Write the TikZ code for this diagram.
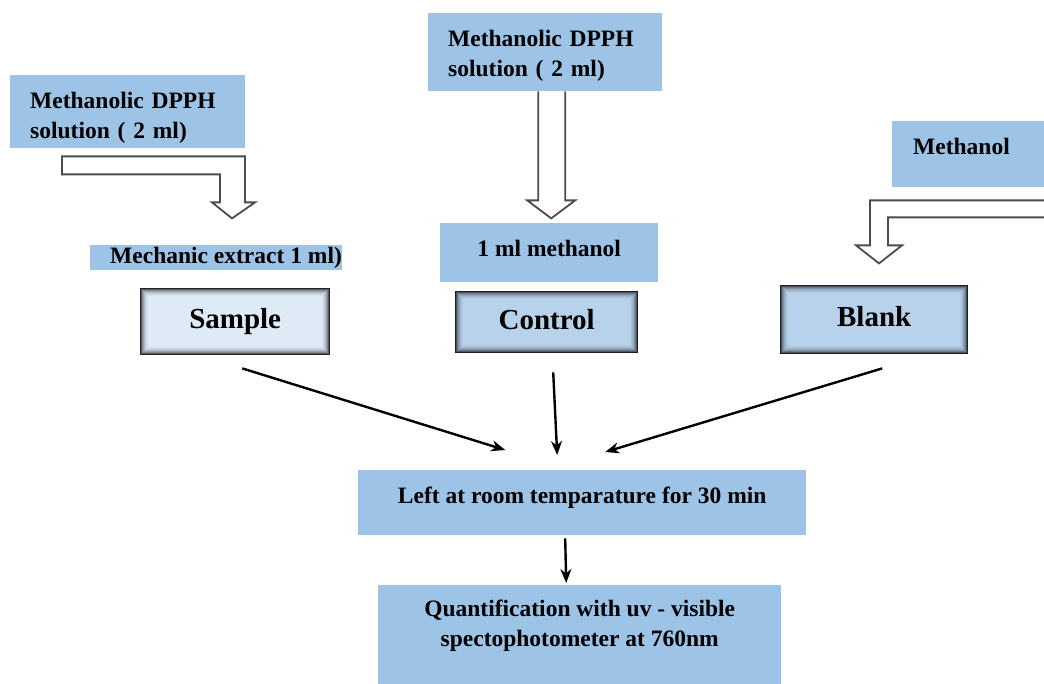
\documentclass[tikz,border=0pt]{standalone}
\usepackage{fontspec}
\setmainfont{Liberation Serif}
\usetikzlibrary{arrows.meta,calc}
\definecolor{paleblue}{RGB}{157,195,230}
\definecolor{sampleblue}{RGB}{222,234,246}
\definecolor{stepblue}{RGB}{184,210,235}

\begin{document}
\begin{tikzpicture}[
    x=1pt, y=-1pt,
    >={Stealth[length=14pt,width=11pt]},
    txt/.style={
        font=\bfseries\fontsize{23.5}{30}\selectfont
    },
    bluebox/.style={
        txt,
        fill=paleblue,
        inner sep=0pt,
        anchor=north west
    },
    tube/.style={
        fill=#1,
        inner sep=0pt,
        anchor=north west,
        text height=20pt,
        text depth=6pt,
        font=\bfseries\fontsize{29}{34}\selectfont
    },
    hollow/.style={
        draw=black!70,
        line width=1.8pt,
        fill=white,
        line join=miter
    },
    flow/.style={
        ->,
        line width=2.4pt
    }
    ]
    \useasboundingbox (0,0) rectangle (1044,684);
    \clip (0,0) rectangle (1044,684);

    % reagents
    \node[bluebox, minimum width=235pt, minimum height=73pt, align=left, text width=195pt] (dpphA) at (10,75) {\rule{0pt}{29pt}Methanolic DPPH\\solution ( 2 ml)};
    \node[bluebox, minimum width=234pt, minimum height=78pt, align=left, text width=194pt] (dpphB) at (428,13) {\rule{0pt}{24pt}Methanolic DPPH\\solution ( 2 ml)};
    \node[bluebox, minimum width=158pt, minimum height=66pt, text height=16pt, text depth=16pt] (meth) at (892,121) {\makebox[116pt][l]{Methanol}};
    \node[bluebox, minimum width=252pt, minimum height=25pt] (extract) at (90,245) {\makebox[212pt][l]{Mechanic extract 1 ml)}};
    \node[bluebox, minimum width=218pt, minimum height=59pt, text height=16pt, text depth=9pt] (mlmeth) at (440,223) {1 ml methanol};

    % tubes
    \node[tube=sampleblue, minimum width=190pt, minimum height=67pt] (sample) at (140,288) {Sample};
    \node[tube=stepblue, minimum width=183pt, minimum height=62pt] (control) at (455,291) {Control};
    \node[tube=stepblue, minimum width=188pt, minimum height=69pt] (blank) at (780,285) {Blank};
    \foreach \b in {sample,control,blank}
        \foreach \i/\op in {0/0.85,1/0.6,2/0.42,3/0.3,4/0.2,5/0.13,6/0.07,7/0.03}
            \draw[black, draw opacity=\op, line width=1pt] ([shift={(\i+0.5,\i+0.5)}]\b.north west) rectangle ([shift={(-\i-0.5,-\i-0.5)}]\b.south east);

    % later steps
    \node[bluebox, minimum width=448pt, minimum height=65pt, text height=16pt, text depth=15pt] (left) at (358,470) {Left at room temparature for 30 min};
    \node[bluebox, minimum width=403pt, minimum height=99pt, align=center] (final) at (378,585) {Quantification with uv - visible\\spectophotometer at 760nm\rule[-23pt]{0pt}{23pt}};

    % hollow arrows
    \draw[hollow] ($(dpphA.south west)+(52,8)$) -- ++(183,0) -- ++(0,46) -- ++(10,0) -- ++(-23,16) -- ++(-20,-16) -- ++(8,0) -- ++(0,-28) -- ++(-158,0) -- cycle;
    \draw[hollow] ($(dpphB.south)+(-7,0)$) -- ++(0,109) -- ++(-11,0) -- ++(24,18) -- ++(24,-18) -- ++(-10,0) -- ++(0,-109);
    \draw[hollow] ($(meth.south west)+(154,13)$) -- ++(-176,0) -- ++(0,45) -- ++(-14,0) -- ++(23,18) -- ++(23,-18) -- ++(-14,0) -- ++(0,-28) -- ++(158,0);

    % flow
    \draw[flow] ([xshift=7pt,yshift=-13pt]sample.south) -- ([xshift=-77pt,yshift=20pt]left.north);
    \draw[flow] ([xshift=6.5pt,yshift=-19pt]control.south) -- ([xshift=-25pt,yshift=15pt]left.north);
    \draw[flow] ([xshift=8pt,yshift=-14pt]blank.south) -- ([xshift=23pt,yshift=18pt]left.north);
    \draw[flow] ([xshift=-17pt,yshift=-3pt]left.south) -- ([xshift=-13.5pt,yshift=2pt]final.north);
\end{tikzpicture}
\end{document}
